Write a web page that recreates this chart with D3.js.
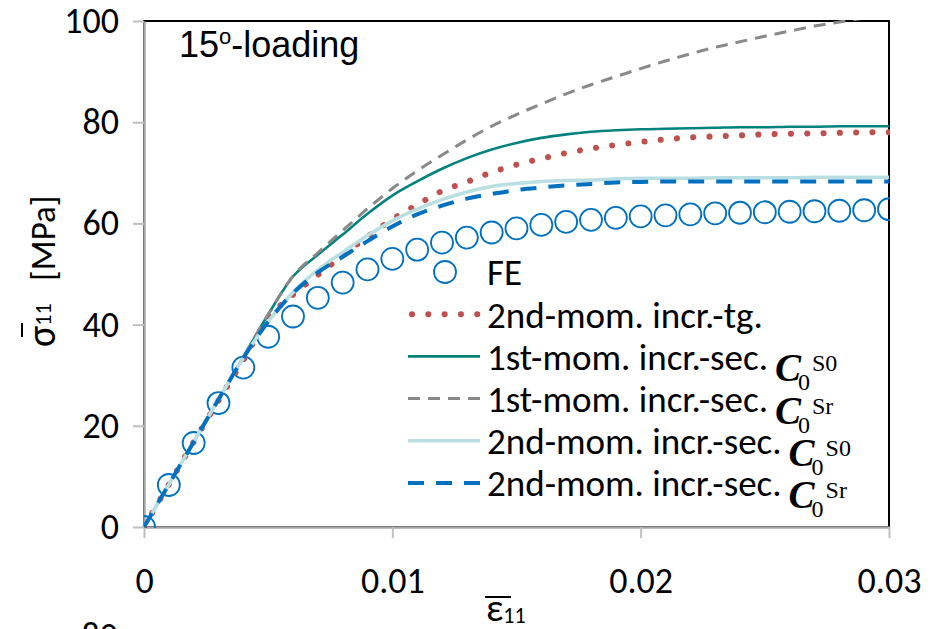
<!DOCTYPE html>
<html>
<head>
<meta charset="utf-8">
<script src="https://d3js.org/d3.v7.min.js"></script>
<style>
  body { margin: 0; background: #fff; }
  svg { display: block; }
  .sans { font-family: Carlito, "Open Sans", sans-serif; }
</style>
</head>
<body>
<div id="chart"></div>
<script>
// strain values (x), one point every 0.001
var strain = [0, 0.001, 0.002, 0.003, 0.004, 0.005, 0.006, 0.007, 0.008, 0.009, 0.010,
              0.011, 0.012, 0.013, 0.014, 0.015, 0.016, 0.017, 0.018, 0.019, 0.020,
              0.021, 0.022, 0.023, 0.024, 0.025, 0.026, 0.027, 0.028, 0.029, 0.030];

// stress values [MPa]
var fe         = [0, 8.3, 16.6, 24.5, 31.5, 37.6, 41.6, 45.3, 48.3, 50.9, 53.0,
                  54.8, 56.2, 57.2, 58.2, 59.0, 59.7, 60.3, 60.7, 61.1, 61.4,
                  61.6, 61.8, 62.0, 62.1, 62.2, 62.3, 62.4, 62.5, 62.6, 62.8];
var tg2nd      = [0, 8.4, 16.8, 25.0, 33.0, 41.2, 45.9, 49.8, 53.6, 57.4, 60.8,
                  63.7, 66.4, 68.2, 70.1, 71.6, 72.8, 73.9, 74.8, 75.5, 76.1,
                  76.6, 77.0, 77.2, 77.4, 77.6, 77.7, 77.8, 77.9, 78.0, 78.0];
var sec1stS0   = [0, 8.4, 16.8, 25.2, 33.6, 42.0, 49.5, 53.8, 57.8, 61.9, 65.5,
                  68.3, 70.8, 72.9, 74.6, 75.9, 76.9, 77.6, 78.1, 78.4, 78.6,
                  78.7, 78.8, 78.9, 79.0, 79.0, 79.1, 79.1, 79.2, 79.2, 79.2];
var sec1stSr   = [0, 8.4, 16.8, 25.2, 33.6, 42.0, 49.6, 54.2, 58.6, 62.9, 66.9,
                  70.4, 73.5, 76.5, 79.2, 81.5, 83.6, 85.6, 87.4, 89.0, 90.6,
                  92.1, 93.5, 94.8, 95.9, 97.0, 98.0, 99.0, 99.8, 100.6, 101.3];
var sec2ndS0   = [0, 8.4, 16.8, 25.2, 33.4, 40.6, 46.4, 50.8, 54.3, 57.6, 60.5,
                  62.8, 64.7, 66.2, 67.3, 67.9, 68.3, 68.5, 68.6, 68.8, 68.9,
                  68.9, 68.9, 69.0, 69.0, 69.0, 69.0, 69.1, 69.1, 69.1, 69.1];
var sec2ndSr   = [0, 8.4, 16.8, 25.2, 33.4, 40.6, 46.2, 50.3, 53.4, 56.5, 59.4,
                  61.8, 63.5, 64.9, 65.8, 66.6, 67.1, 67.5, 67.8, 68.1, 68.2,
                  68.3, 68.3, 68.3, 68.3, 68.3, 68.3, 68.3, 68.3, 68.3, 68.3];

var xTicks = [0, 0.01, 0.02, 0.03];
var yTicks = [0, 20, 40, 60, 80, 100];

var legendNames = ["FE", "2nd-mom. incr.-tg.", "1st-mom. incr.-sec.", "1st-mom. incr.-sec.",
                   "2nd-mom. incr.-sec.", "2nd-mom. incr.-sec."];
var legendSup = [null, null, "S0", "Sr", "S0", "Sr"];

var W = 938, H = 629;
var margin = {top: 21, right: 49, bottom: 102, left: 144},
    width = W - margin.left - margin.right,
    height = H - margin.top - margin.bottom;

var svg = d3.select("#chart").append("svg")
    .attr("width", W).attr("height", H);

var x = d3.scaleLinear().domain([0, 0.03]).range([0, width]);
var y = d3.scaleLinear().domain([0, 100]).range([height, 0]);

var g = svg.append("g").attr("transform", "translate(" + margin.left + "," + margin.top + ")");

// plot frame
g.append("rect")
    .attr("width", width).attr("height", height)
    .attr("fill", "none").attr("stroke", "#000").attr("stroke-width", 2);

g.append("clipPath").attr("id", "clip")
  .append("rect").attr("x", 0).attr("y", -1).attr("width", width + 1).attr("height", height + 2);

// axes
var yAxis = g.append("g")
    .call(d3.axisLeft(y).tickValues(yTicks).tickSize(11).tickSizeOuter(0).tickPadding(14));
var xAxis = g.append("g")
    .attr("transform", "translate(0," + height + ")")
    .call(d3.axisBottom(x).tickValues(xTicks).tickFormat(d3.format("")).tickSize(11).tickSizeOuter(0).tickPadding(29));

[yAxis, xAxis].forEach(function(a) {
  a.select(".domain").attr("stroke", "#A6A6A6").attr("stroke-width", 2.5);
  a.selectAll(".tick line").attr("stroke", "#BFBFBF").attr("stroke-width", 2);
  a.selectAll(".tick text")
      .attr("class", "sans")
      .attr("font-size", 36).attr("fill", "#000");
});

// series
var series = [
  {vals: tg2nd,    color: "#C0504D", w: 6,   dash: "0.1,16.2", cap: "round"},
  {vals: sec1stS0, color: "#00827D", w: 2.6, dash: null,       cap: "butt"},
  {vals: sec1stSr, color: "#898989", w: 3,   dash: "12,8",     cap: "butt"},
  {vals: sec2ndS0, color: "#B9DFE3", w: 3.5, dash: null,       cap: "butt"},
  {vals: sec2ndSr, color: "#0070C0", w: 4,   dash: "16,12",    cap: "butt"}
];

var plot = g.append("g").attr("clip-path", "url(#clip)");

// FE circles first
plot.selectAll("circle.fe")
    .data(fe)
    .enter()
    .append("circle")
      .attr("class", "fe")
      .attr("cx", function(d, i) { return x(strain[i]); })
      .attr("cy", function(d) { return y(d); })
      .attr("r", 11)
      .attr("fill", "none")
      .attr("stroke", "#0070C0")
      .attr("stroke-width", 1.8);

var line = d3.line()
    .x(function(d, i) { return x(strain[i]); })
    .y(function(d) { return y(d); })
    .curve(d3.curveMonotoneX);

series.forEach(function(s) {
  plot.append("path")
      .datum(s.vals)
      .attr("d", line)
      .attr("fill", "none")
      .attr("stroke", s.color)
      .attr("stroke-width", s.w)
      .attr("stroke-dasharray", s.dash)
      .attr("stroke-linecap", s.cap);
});

// legend
var legendX = 408, legendTextX = 487, legendY0 = 272, legendStep = 42.2;
var leg = svg.append("g");
var serif = "'Liberation Serif', 'Times New Roman', serif";

legendNames.forEach(function(name, i) {
  var ly = legendY0 + i * legendStep;
  if (i == 0) {
    leg.append("circle")
        .attr("cx", 445).attr("cy", ly).attr("r", 11)
        .attr("fill", "none").attr("stroke", "#0070C0").attr("stroke-width", 1.8);
  } else {
    var s = series[i - 1];
    leg.append("line")
        .attr("x1", s.cap == "round" ? 412 : legendX).attr("x2", 480)
        .attr("y1", ly).attr("y2", ly)
        .attr("stroke", s.color).attr("stroke-width", s.w)
        .attr("stroke-dasharray", s.dash).attr("stroke-linecap", s.cap);
  }
  var t = leg.append("text")
      .attr("class", "sans")
      .attr("x", legendTextX).attr("y", ly)
      .attr("dy", "0.36em")
      .attr("font-size", 37)
      .text(name);

  if (legendSup[i]) {
    var cx = legendTextX + t.node().getComputedTextLength() + 7;
    leg.append("text")
        .attr("font-family", serif)
        .attr("font-size", 39).attr("font-weight", "bold").attr("font-style", "italic")
        .attr("x", cx).attr("y", ly + 25)
        .text("C");
    leg.append("text")
        .attr("font-family", serif)
        .attr("font-size", 24)
        .attr("x", cx + 23).attr("y", ly + 34)
        .text("0");
    leg.append("text")
        .attr("font-family", serif)
        .attr("font-size", 24)
        .attr("x", cx + 37).attr("y", ly + 15)
        .text(legendSup[i]);
  }
});

// title inside plot
var title = svg.append("text")
    .attr("font-family", "'Liberation Sans', Arial, sans-serif")
    .attr("font-size", 36)
    .attr("x", 179).attr("y", 57);
title.append("tspan").text("15");
title.append("tspan").attr("font-size", 22).attr("dy", -13).text("o");
title.append("tspan").attr("dy", 13).text("-loading");

// y axis title (rotated)
var yt = svg.append("g").attr("transform", "translate(55,347) rotate(-90)");
var ytxt = yt.append("text").attr("class", "sans").attr("x", 0).attr("y", 0);
ytxt.append("tspan").attr("font-size", 40).text("σ");
ytxt.append("tspan").attr("font-size", 22).attr("dy", -4).text("11");
yt.append("text").attr("class", "sans").attr("font-size", 35)
    .attr("x", 66).attr("y", 0)
    .text("[MPa]");
yt.append("line")
    .attr("x1", 10).attr("x2", 24).attr("y1", -33).attr("y2", -33)
    .attr("stroke", "#000").attr("stroke-width", 2);

// x axis title
var xt = svg.append("text").attr("class", "sans")
    .attr("x", 486).attr("y", 621);
xt.append("tspan").attr("font-size", 38).text("ε");
xt.append("tspan").attr("font-size", 22).attr("dy", 2).text("11");
svg.append("line")
    .attr("x1", 485).attr("x2", 511).attr("y1", 597).attr("y2", 597)
    .attr("stroke", "#000").attr("stroke-width", 2);

// cut-off label of the chart below
svg.append("text").attr("class", "sans").attr("font-size", 36)
    .attr("text-anchor", "end")
    .attr("x", 118).attr("y", 648)
    .text("80");
</script>
</body>
</html>
